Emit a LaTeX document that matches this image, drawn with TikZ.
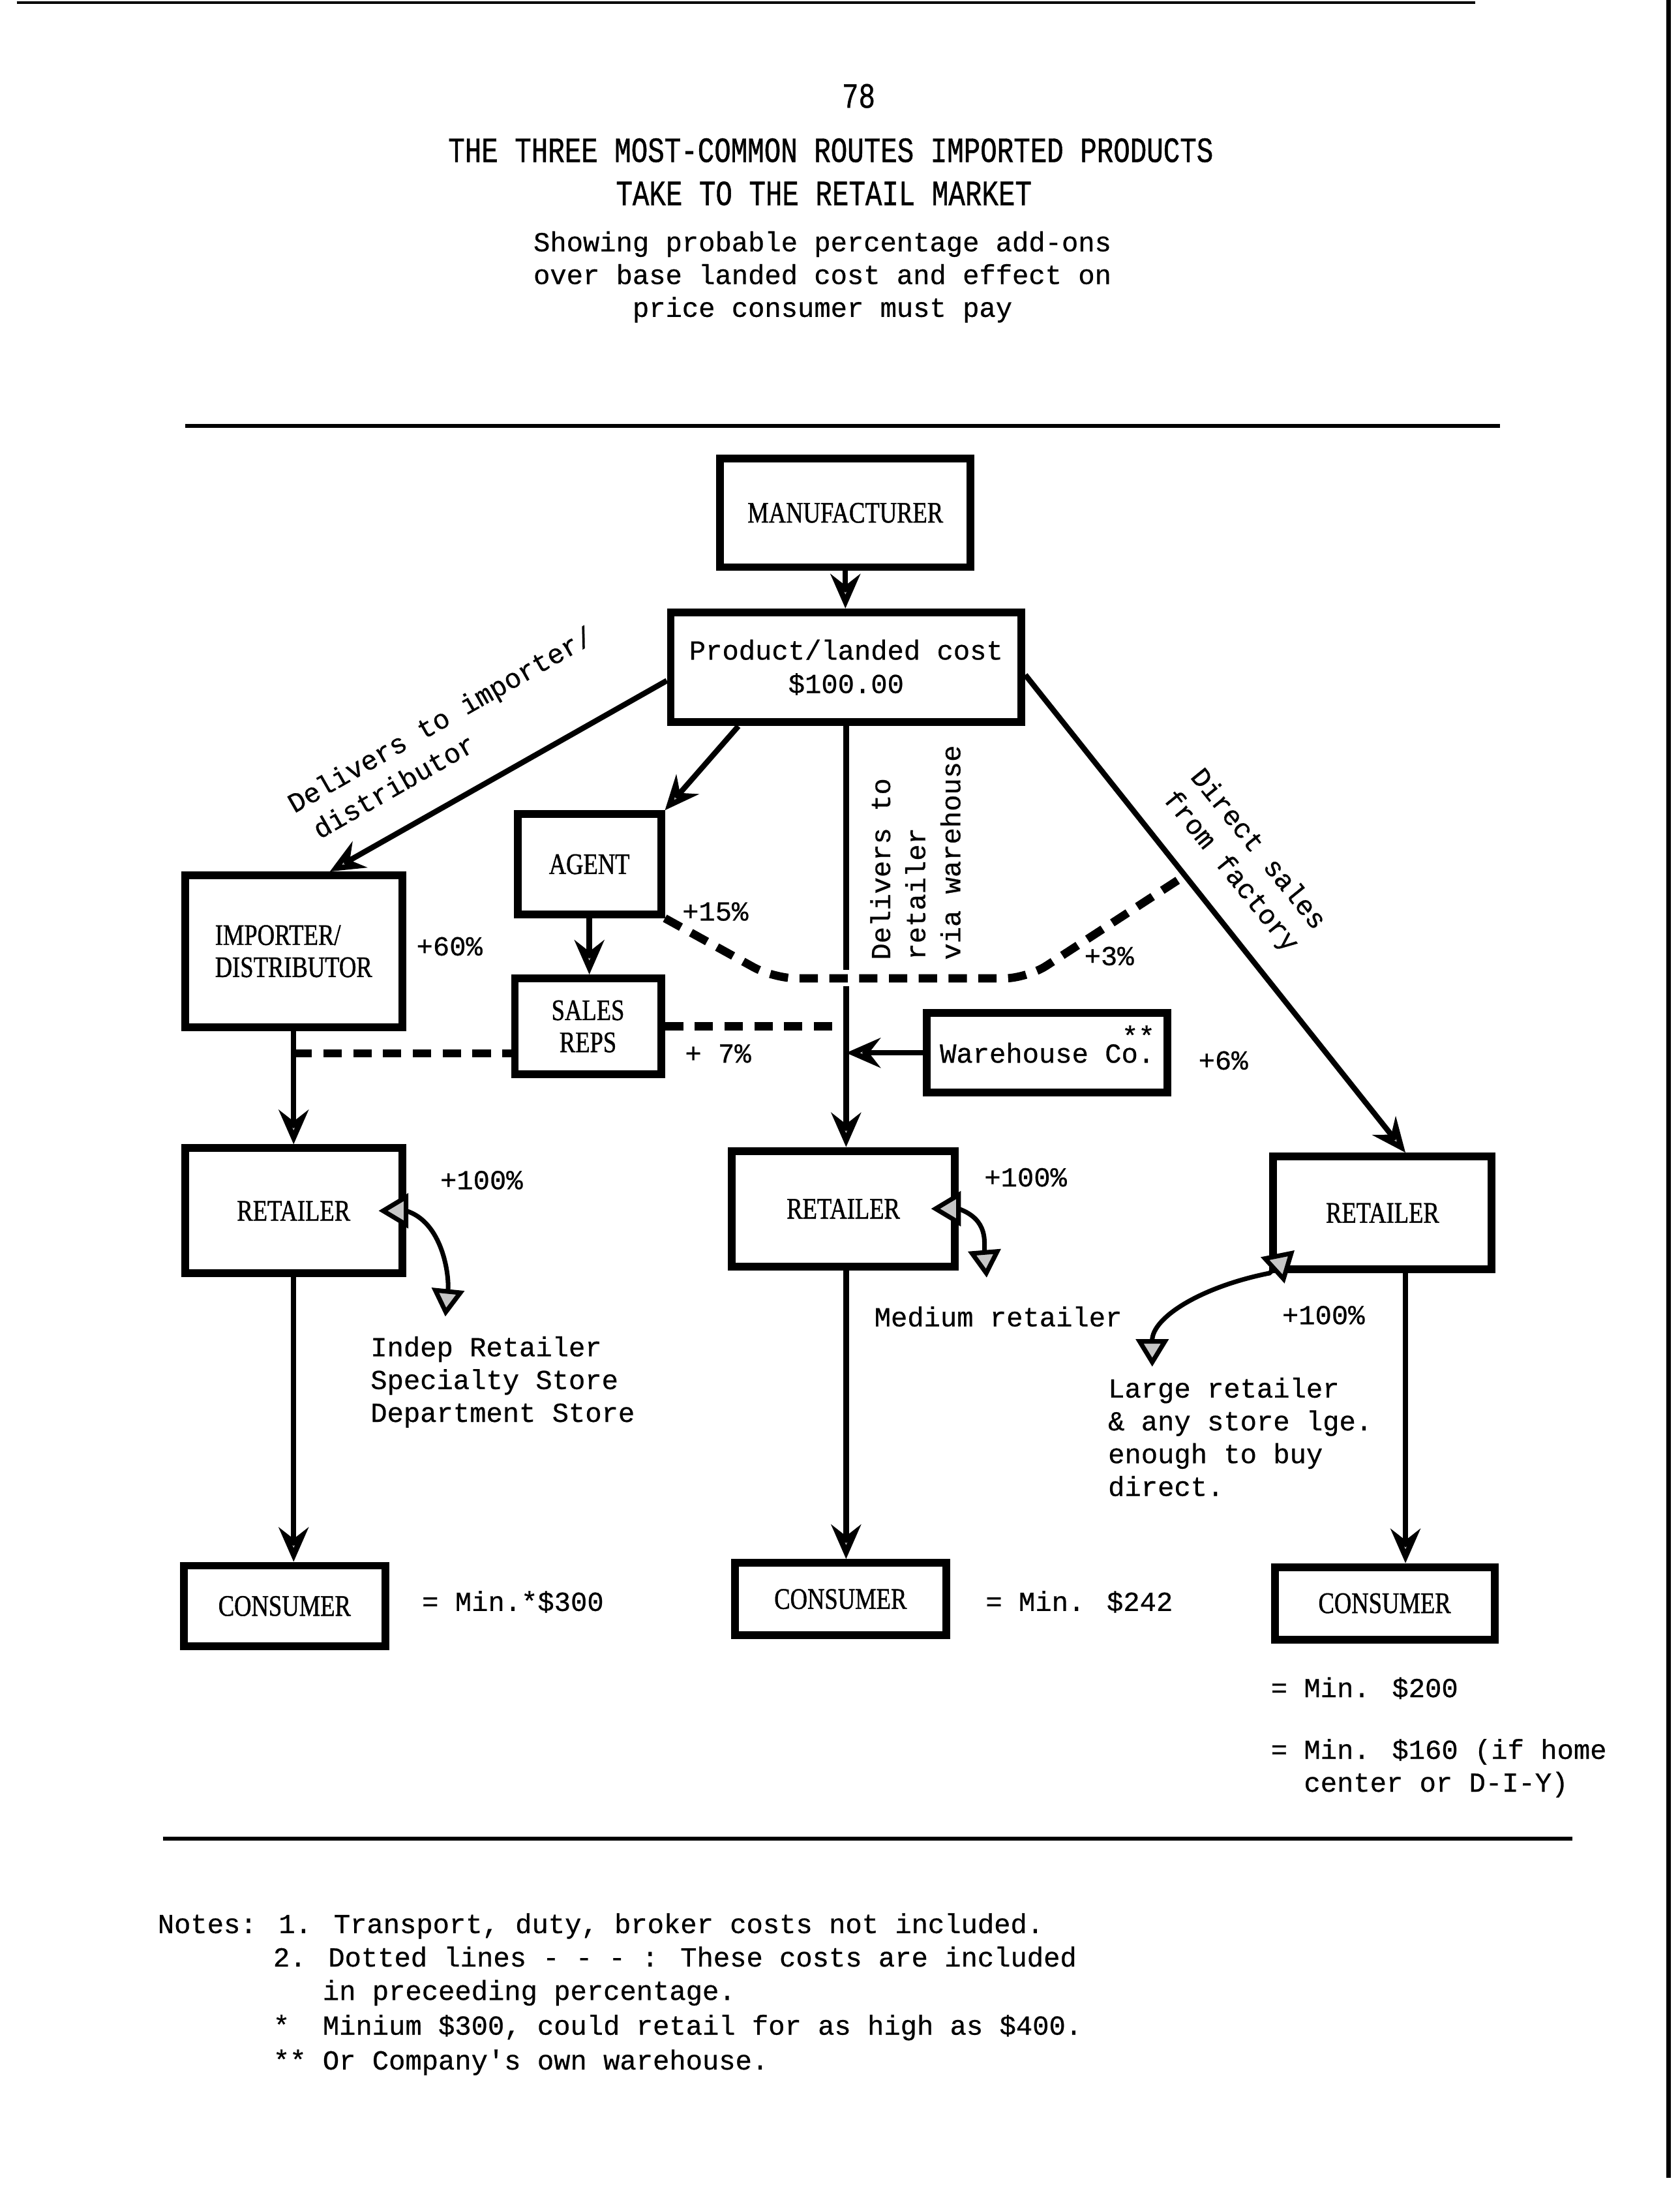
\documentclass[tikz,border=0pt]{standalone}
\usepackage{fontspec}
\setmainfont{Liberation Mono}[FakeBold=0.6]
\newfontfamily\boxfont{Liberation Serif}[FakeStretch=0.80,FakeBold=1.0]
\newfontfamily\titlefont{Liberation Mono}[FakeStretch=0.78,FakeBold=0.8]
\usetikzlibrary{arrows.meta,calc}
\tikzset{
  bx/.style n args={2}{draw, line width=3.4pt, minimum width=#1*0.607pt, minimum height=#2*0.607pt,
     inner sep=0pt, align=center, font=\boxfont\fontsize{13}{14}\selectfont},
  twbox/.style n args={2}{bx={#1}{#2}, font=\fontsize{12}{14.6}\selectfont},
  lbl/.style={font=\fontsize{12}{14.3}\selectfont, inner sep=0pt},
  rlbl/.style={font=\fontsize{12}{15.3}\selectfont, inner sep=0pt, align=left},
  ttl/.style={font=\titlefont\fontsize{15.5}{18}\selectfont, inner sep=0pt},
  conn/.style={line width=2.4pt, -{Stealth[length=15pt,width=13pt,inset=5pt,fill=gray!45]}},
  solidline/.style={line width=2.4pt},
  dsh/.style={line width=3.6pt, dash pattern=on 8pt off 5pt},
  curv/.style={line width=2pt, {Triangle[length=13pt,width=15pt,fill=gray!45]}-{Triangle[length=12pt,width=14pt,fill=gray!45]}},
  rule/.style={line width=1.8pt},
}
\begin{document}
\begin{tikzpicture}[x=0.607pt,y=-0.607pt]
\useasboundingbox (0,0) rectangle (1207,1570);
% page edges of the scan
\draw[line width=1.2pt] (12,2) -- (1060,2);
\draw[line width=1.8pt] (1199,0) -- (1199,1565);

% titles
\node[ttl] (t78) at (617,69) {78};
\node[ttl] (t1) at (597,108) {THE THREE MOST-COMMON ROUTES IMPORTED PRODUCTS};
\node[ttl] (t2) at (592,139) {TAKE TO THE RETAIL MARKET};
\node[lbl, align=center] (sub) at (591,199) {Showing probable percentage add-ons\\over base landed cost and effect on\\price consumer must pay};

\draw[rule] (133,306) -- (1078,306);
\draw[rule] (117,1321) -- (1130,1321);

% boxes
\node[bx={180}{78}] (manu) at (607.5,368.5) {MANUFACTURER};
\node[twbox={252}{79}] (prod) at (608,479.5) {Product/landed cost\\\$100.00};
\node[bx={156}{109}, align=left] (imp) at (211,683.5) {IMPORTER/\\DISTRIBUTOR};
\node[bx={103}{72}] (agent) at (423.5,621) {AGENT};
\node[bx={105}{69}] (reps) at (422.5,737.5) {SALES\\REPS};
\node[twbox={173}{57}] (wh) at (752.5,756.5) {\raisebox{-2pt}{Warehouse Co.}};
\node[lbl] (whstar) at (818,744) {**};
\node[bx={156}{90}] (retL) at (211,870) {RETAILER};
\node[bx={160}{83}] (retC) at (606,868.5) {RETAILER};
\node[bx={157}{81}] (retR) at (993.5,871.5) {RETAILER};
\node[bx={145}{58}] (conL) at (204.5,1154) {CONSUMER};
\node[bx={152}{52}] (conC) at (604,1149) {CONSUMER};
\node[bx={158}{52}] (conR) at (995,1152) {CONSUMER};

% main connectors
\draw[conn] (manu.south) -- (manu.south |- prod.north);
\coordinate (impin) at ([xshift=15.8pt]imp.north);
\draw[conn] ([yshift=-5.8pt]prod.west) -- (impin);
\draw[conn] ([xshift=-47pt]prod.south) -- (agent.north east);
\coordinate (gapT) at ($(prod.south)+(0,175)$);
\coordinate (gapB) at ($(prod.south)+(0,187)$);
\draw[solidline] (prod.south) -- (gapT);
\draw[conn] (gapB) -- (gapB |- retC.north);
\draw[conn] (wh.west) -- (wh.west -| gapB);
\coordinate (ds1) at ([yshift=-3.3pt]prod.east);
\coordinate (ds2) at ([xshift=10pt]retR.north);
\draw[conn] (ds1) -- (ds2);
\draw[conn] (agent.south) -- (agent.south |- reps.north);
\draw[conn] (imp.south) -- (imp.south |- retL.north);
\draw[conn] (retL.south) -- (retL.south |- conL.north);
\draw[conn] (retC.south -| gapB) -- (gapB |- conC.north);
\draw[conn] ([xshift=10pt]retR.south) -- ([xshift=10pt]retR.south |- conR.north);

% dashed (included costs)
\coordinate (dA) at (556,703);
\coordinate (dB) at (738,703);
\coordinate (dC) at ($(ds1)!0.42!(ds2)$);
\draw[dsh, rounded corners=10pt] (agent.south east) -- (dA) -- (dB) -- (dC);
\draw[dsh] (reps.east) -- (reps.east -| gapB);
\coordinate (r3) at ([yshift=-11.8pt]reps.west);
\draw[dsh] (imp.south |- r3) -- (r3);

% curved retailer arrows
\coordinate (cL) at (320,946);
\coordinate (cC) at (709,918);
\coordinate (cR) at (828,982);
\draw[curv] ([xshift=-12pt]retL.east) -- (retL.east) .. controls +(26,8) and +(3,-30) .. (cL);
\draw[curv] ([xshift=-12pt]retC.east) -- (retC.east) .. controls +(22,8) and +(-2,-25) .. (cC);
\draw[curv] ([shift={(11pt,10pt)}]retR.south west) -- (retR.south west) .. controls +(-50,10) and +(0,-35) .. (cR);

% rotated route labels
\node[rlbl, rotate=29.7, anchor=north west] (dl) at (204,572) {Delivers to importer/\\\hspace*{4pt}distributor};
\node[rlbl, rotate=90, anchor=north west] (dw) at (625,690) {Delivers to\\retailer\\via warehouse};
\node[rlbl, rotate=-51, anchor=north west] (df) at (866,549) {Direct sales\\from factory};

% percentage labels
\node[lbl] (p60) at (323,680) {+60\%};
\node[lbl] (p15) at (514,655) {+15\%};
\node[lbl] (p7) at (516,757) {+ 7\%};
\node[lbl] (p3) at (797,687) {+3\%};
\node[lbl] (p6) at (879,762) {+6\%};
\node[lbl] (pL) at (346,848) {+100\%};
\node[lbl] (pC) at (737,846) {+100\%};
\node[lbl] (pR) at (951,945) {+100\%};

% descriptive texts
\node[lbl, anchor=west] (medium) at (628,946) {Medium retailer};
\node[lbl, anchor=west, align=left] (indep) at (266,993) {Indep Retailer\\Specialty Store\\Department Store};
\node[lbl, anchor=west, align=left] (large) at (796,1032.5) {Large retailer\\\& any store lge.\\enough to buy\\direct.};
\node[lbl, anchor=west] (minL) at (303,1151) {= Min.*\$300};
\node[lbl, anchor=west] (minC) at (708,1151) {= Min. \$242};
\node[lbl, anchor=west] (minR) at (913,1213) {= Min. \$200};
\node[lbl, anchor=west, align=left] (minR2) at (913,1270.5) {= Min. \$160 (if home\\\hspace*{14.4pt}center or D-I-Y)};

% notes
\node[lbl, anchor=base west] (n1) at (113,1389) {Notes: 1. Transport, duty, broker costs not included.};
\node[lbl, anchor=base west] (n2) at (196,1413) {2. Dotted lines - - - : These costs are included};
\node[lbl, anchor=base west] (n3) at (231.6,1437) {in preceeding percentage.};
\node[lbl, anchor=base west] (n4) at (196,1462) {*\ \ Minium \$300, could retail for as high as \$400.};
\node[lbl, anchor=base west] (n5) at (196,1487) {**\ Or Company\textquotesingle s own warehouse.};
\end{tikzpicture}
\end{document}
